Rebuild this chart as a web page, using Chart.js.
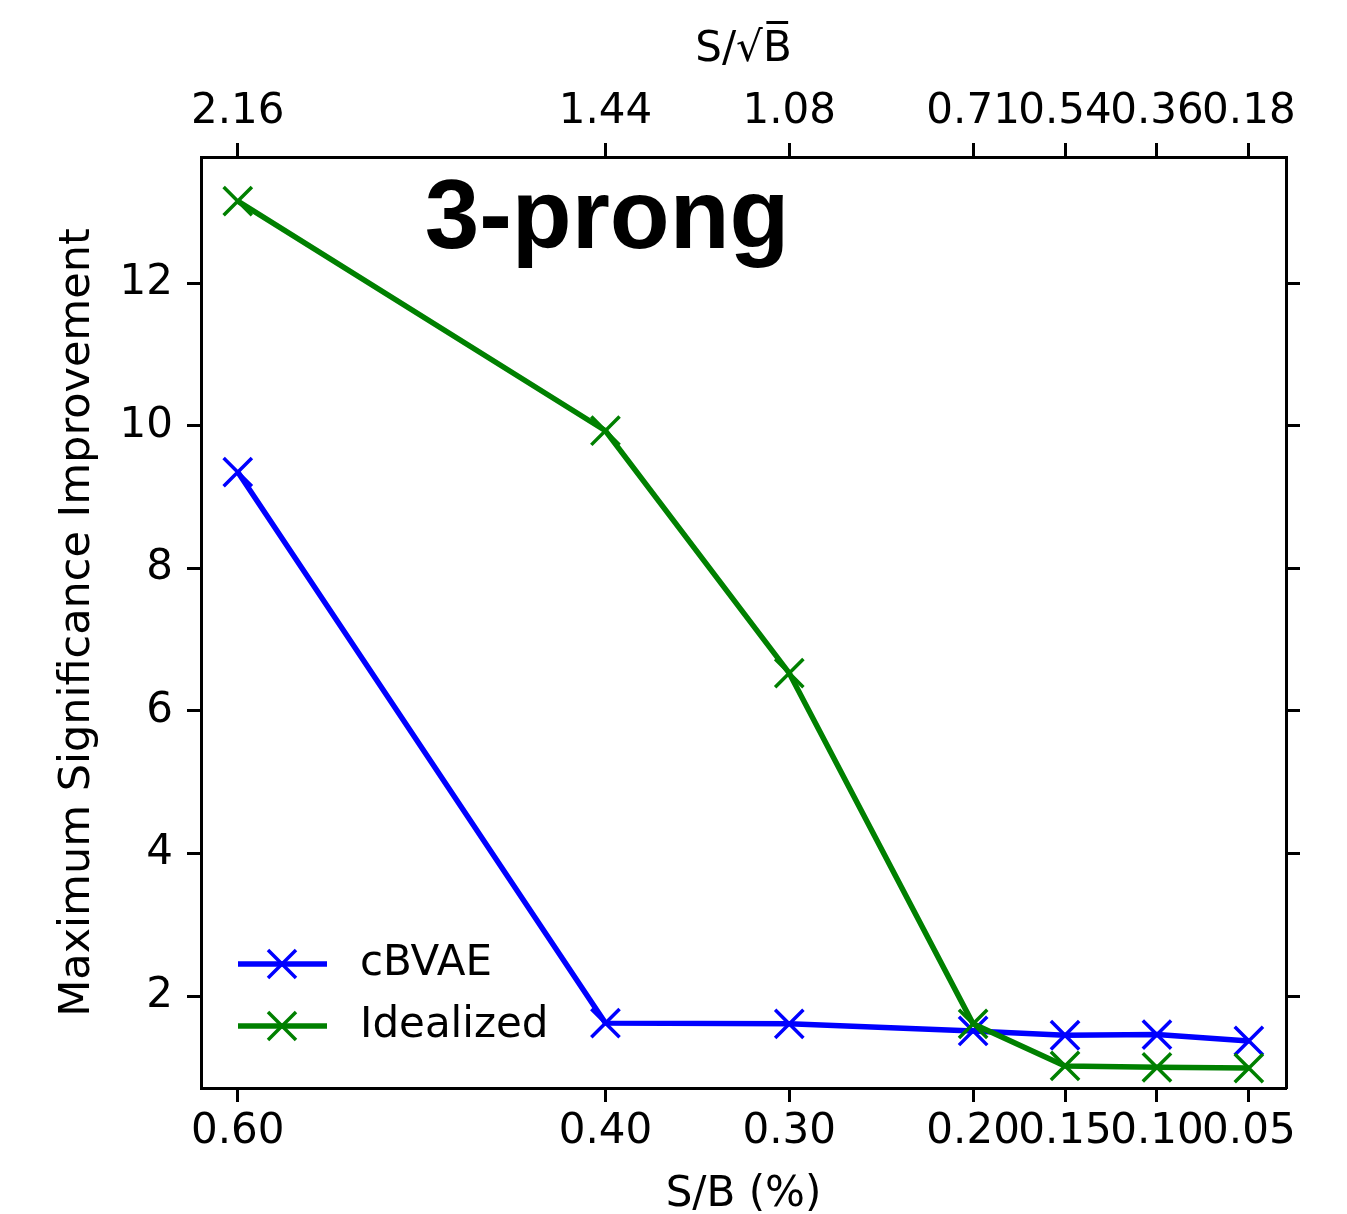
<!DOCTYPE html>
<html>
<head>
<meta charset="utf-8">
<script src="https://cdn.jsdelivr.net/npm/chart.js@4"></script>
<style>
  body { margin: 0; background: #fff; }
  #wrap { width: 1347px; height: 1214px; }
</style>
</head>
<body>
<div id="wrap"><canvas id="sigChart" width="1347" height="1214"></canvas></div>
<script>
// dados
const sbPercent = [0.60, 0.40, 0.30, 0.20, 0.15, 0.10, 0.05];
const sOverRootB = ['2.16', '1.44', '1.08', '0.71', '0.54', '0.36', '0.18'];
const cbvae = [9.35, 1.62, 1.61, 1.51, 1.45, 1.46, 1.37];
const idealized = [13.15, 9.93, 6.53, 1.61, 1.02, 1.00, 0.99];
const yTicks = [2, 4, 6, 8, 10, 12];

const FONT = 'DejaVu Sans';
const tickFont = { family: FONT, size: 42 };

const toPoints = (ys) => sbPercent.map((x, i) => ({ x: x, y: ys[i] }));

const axisLook = {
  grid: { drawOnChartArea: false, drawTicks: true, tickLength: 14, tickWidth: 3, tickColor: '#000' },
  border: { display: true, color: '#000', width: 3 }
};

// texto "3-prong" e legenda desenhados à mão
const extras = {
  id: 'extras',
  afterDraw(chart) {
    const c = chart.ctx;
    const area = chart.chartArea;
    c.save();
    c.fillStyle = '#000';
    c.font = 'bold 98px "Liberation Sans"';
    c.textAlign = 'center';
    c.textBaseline = 'alphabetic';
    c.fillText('3-prong', area.left + 406, area.top + 91);

    chart.data.datasets.forEach((ds, i) => {
      const y = 964 + i * 62;
      c.strokeStyle = ds.borderColor;
      c.lineWidth = 5.5;
      c.beginPath();
      c.moveTo(238, y);
      c.lineTo(327, y);
      c.stroke();
      c.lineWidth = 3.5;
      c.beginPath();
      c.moveTo(268, y - 14); c.lineTo(296, y + 14);
      c.moveTo(268, y + 14); c.lineTo(296, y - 14);
      c.stroke();
      c.fillStyle = '#000';
      c.font = '42px "DejaVu Sans"';
      c.textAlign = 'left';
      c.textBaseline = 'middle';
      c.fillText(ds.label, 360, y);
    });
    c.restore();
  }
};

const ctx = document.getElementById('sigChart').getContext('2d');
const sigChart = new Chart(ctx, {
  type: 'line',
  data: {
    datasets: [
      {
        label: 'cBVAE',
        data: toPoints(cbvae),
        borderColor: '#0000ff',
        backgroundColor: '#0000ff',
        borderWidth: 5.5,
        pointStyle: 'crossRot',
        pointRadius: 20,
        pointBorderWidth: 3.5,
        fill: false,
        tension: 0,
        order: 1
      },
      {
        label: 'Idealized',
        data: toPoints(idealized),
        borderColor: '#008000',
        backgroundColor: '#008000',
        borderWidth: 5.5,
        pointStyle: 'crossRot',
        pointRadius: 20,
        pointBorderWidth: 3.5,
        fill: false,
        tension: 0,
        order: 0
      }
    ]
  },
  options: {
    responsive: false,
    animation: false,
    layout: { padding: 0 },
    plugins: { legend: { display: false }, tooltip: { enabled: false } },
    scales: {
      x: {
        type: 'linear', position: 'bottom', reverse: true,
        min: 0.0298, max: 0.620,
        ...axisLook,
        afterBuildTicks: (s) => { s.ticks = sbPercent.map(v => ({ value: v })); },
        afterFit: (s) => { s.height = 126; },
        ticks: {
          autoSkip: false, maxRotation: 0, color: '#000', font: tickFont, padding: 5,
          callback: (v) => Number(v).toFixed(2)
        },
        title: { display: true, text: 'S/B (%)', color: '#000', font: { family: FONT, size: 42, lineHeight: 0.9 }, padding: { top: 0, bottom: 0 } }
      },
      x2: {
        type: 'linear', position: 'top', reverse: true,
        min: 0.0298, max: 0.620,
        ...axisLook,
        afterBuildTicks: (s) => { s.ticks = sbPercent.map(v => ({ value: v })); },
        afterFit: (s) => { s.height = 157; },
        ticks: {
          autoSkip: false, maxRotation: 0, color: '#000', font: tickFont, padding: 6,
          callback: (v) => sOverRootB[sbPercent.indexOf(v)]
        },
        title: { display: true, text: 'S/\u221AB\u0305', color: '#000', font: { family: FONT, size: 42, lineHeight: 1 }, padding: { top: 29, bottom: 0 } }
      },
      y: {
        type: 'linear', position: 'left',
        min: 0.71, max: 13.77,
        ...axisLook,
        afterBuildTicks: (s) => { s.ticks = yTicks.map(v => ({ value: v })); },
        afterFit: (s) => { s.width = 201; },
        ticks: { color: '#000', font: tickFont, padding: 14 },
        title: { display: true, text: 'Maximum Significance Improvement', color: '#000', font: { family: FONT, size: 43, lineHeight: 1 }, padding: { top: 56, bottom: 0 } }
      },
      y2: {
        type: 'linear', position: 'right',
        min: 0.71, max: 13.77,
        ...axisLook,
        afterBuildTicks: (s) => { s.ticks = yTicks.map(v => ({ value: v })); },
        afterFit: (s) => { s.width = 61; },
        ticks: { display: true, color: 'rgba(0,0,0,0)', font: { size: 1 }, padding: 0, callback: () => '' }
      }
    }
  },
  plugins: [extras]
});
</script>
</body>
</html>
